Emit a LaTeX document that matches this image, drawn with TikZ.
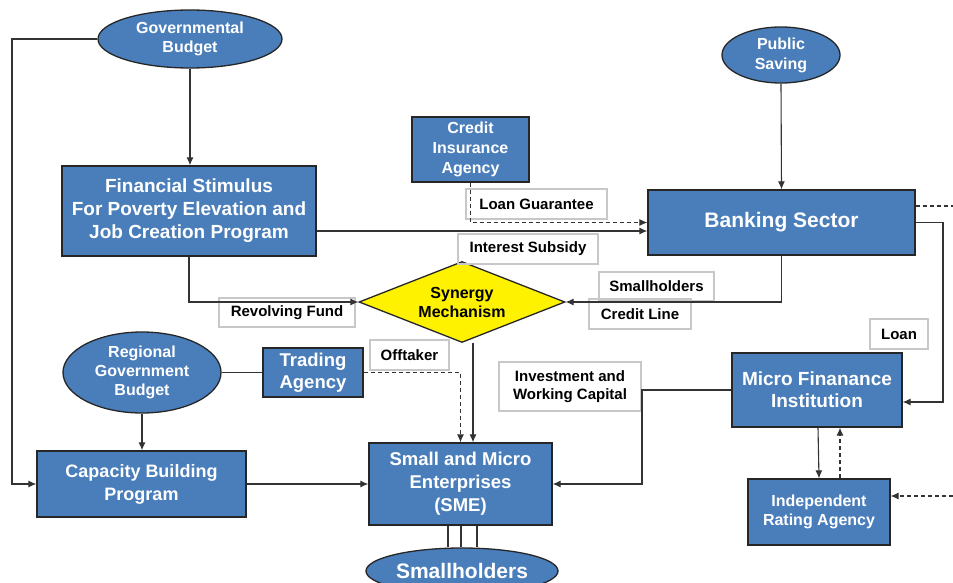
\documentclass[tikz,border=0pt]{standalone}
\usepackage{fontspec}
\setmainfont{Liberation Sans}
\usetikzlibrary{arrows.meta,shapes.geometric,positioning,calc}
\definecolor{boxblue}{RGB}{74,126,187}
\definecolor{edgegray}{RGB}{200,200,200}
\newcommand{\fsz}[2]{\fontsize{#1}{#2}\selectfont}

\begin{document}
\begin{tikzpicture}[x=1pt,y=-1pt,>={Latex[length=8pt,width=7pt]},
  blk/.style={draw=black!85,fill=boxblue,line width=1.3pt,text=white,align=center,inner sep=1pt},
  oval/.style={blk,ellipse},
  txt/.style 2 args={font=\bfseries\fsz{#1}{#2}},
  lbl/.style={draw=edgegray,line width=1.6pt,font=\bfseries\fsz{15}{18},align=center,inner sep=1pt},
  conn/.style={line width=1.1pt,draw=black!80},
  dconn/.style={conn,dash pattern=on 4pt off 3pt}]
  \useasboundingbox (0,0) rectangle (953,583);

  \node[oval,txt={16}{19},minimum width=184pt,minimum height=58pt] (govbudget) at (190,39) {Governmental\\Budget};
  \node[blk,txt={19}{23},minimum width=254pt,minimum height=90pt] (stimulus) at (189,211) {Financial Stimulus\\For Poverty Elevation and\\Job Creation Program};
  \node[blk,txt={16}{20},minimum width=117pt,minimum height=65pt] (insurance) at (470.5,149.5) {Credit\\Insurance\\Agency};
  \node[oval,txt={16}{20},minimum width=118pt,minimum height=56pt] (saving) at (781,55) {Public\\Saving};
  \node[blk,txt={21}{25},minimum width=267pt,minimum height=65pt] (banking) at (781.5,222.5) {Banking Sector};
  \node[diamond,aspect=2.54,draw=black!85,line width=1.3pt,fill=yellow,inner sep=0pt,txt={16}{19},align=center,
        minimum width=206pt,minimum height=81pt] (synergy) at (462,302) {Synergy\\Mechanism};
  \node[oval,txt={16}{19},minimum width=158pt,minimum height=81pt] (regional) at (142,372.5) {Regional\\Government\\Budget};
  \node[blk,txt={18.5}{22},minimum width=100pt,minimum height=49pt] (trading) at (313,372.5) {Trading\\Agency};
  \node[blk,txt={18}{23},minimum width=209pt,minimum height=66pt] (capacity) at (141.5,484) {Capacity Building\\Program};
  \node[blk,txt={18.5}{23},minimum width=183pt,minimum height=82pt] (sme) at (460.5,484) {Small and Micro\\Enterprises\\(SME)};
  \node[blk,txt={19}{22},minimum width=170pt,minimum height=74pt] (mfi) at (817,390) {Micro Finanance\\Institution};
  \node[blk,txt={16}{18.5},minimum width=142pt,minimum height=66pt] (rating) at (819,512) {Independent\\Rating Agency};
  \node[oval,txt={21}{25},minimum width=192pt,minimum height=46pt] (farmers) at (462,571) {Smallholders};

  % flow labels
  \node[lbl,minimum width=141pt,minimum height=30pt] (guarantee) at (536.5,204) {Loan Guarantee};
  \node[lbl,minimum width=140pt,minimum height=30pt] (subsidy) at (528,249) {Interest Subsidy};
  \node[lbl,minimum width=136pt,minimum height=29pt] (revolving) at (287,312.5) {Revolving Fund};
  \node[lbl,minimum width=115pt,minimum height=29pt] (smallh) at (656.5,286.5) {Smallholders};
  \node[lbl,minimum width=102pt,minimum height=30pt] (creditline) at (640,314) {Credit Line};
  \node[lbl,minimum width=79pt,minimum height=30pt] (offtaker) at (409.5,355) {Offtaker};
  \node[lbl,minimum width=142pt,minimum height=49pt] (invest) at (570,386.5) {Investment and\\Working Capital};
  \node[lbl,minimum width=58pt,minimum height=30pt] (loan) at (899,334) {Loan};

  \coordinate (leftbend) at (12,484);
  \coordinate (loanbend) at (943,402);
  \coordinate (capbend) at (642,484);
  \coordinate (outtop) at (953,206);
  \coordinate (outlow) at (953,496);

  \draw[conn,->] (govbudget.west) -| (leftbend) -- (capacity.west);
  \draw[conn,->] (govbudget.south) -- (govbudget.south |- stimulus.north);
  \draw[conn,->] ([yshift=-20pt]stimulus.east) -- ([yshift=-20pt]stimulus.east -| banking.west);
  \draw[dconn,->] (insurance.south) |- (banking.west);
  \draw[conn,->] (saving.south) -- (banking.north);
  \draw[dconn] ([yshift=16.5pt]banking.east) -- (outtop);
  \draw[conn,->] (banking.east) -| (loanbend) -- ([yshift=-12pt]mfi.east);
  \draw[conn,->] (banking.south) |- (synergy.east);
  \draw[conn,->] (stimulus.south) |- (synergy.west);
  \draw[conn,->] ([xshift=11pt]synergy.south) -- ([xshift=11pt]synergy.south |- sme.north);
  \draw[conn] (regional.east) -- (trading.west);
  \draw[dconn,->] (trading.east) -| (sme.north);
  \draw[conn,->] (regional.south) -- (regional.south |- capacity.north);
  \draw[conn,->] (capacity.east) -- (sme.west);
  \draw[conn,->] (mfi.west) -| (capbend) -- (sme.east);
  \draw[conn,->] ([xshift=1pt]mfi.south) -- (rating.north);
  \draw[dconn,->] ([xshift=21pt]rating.north) -- ([xshift=21pt]rating.north |- mfi.south);
  \draw[dconn,->] (outlow) -- ([yshift=16pt]rating.east);
  \foreach \dx in {-12.5,0.5,16.5}
    \draw[conn] ([xshift=\dx pt]sme.south) -- ([xshift=\dx pt]sme.south |- farmers.north);
\end{tikzpicture}
\end{document}
